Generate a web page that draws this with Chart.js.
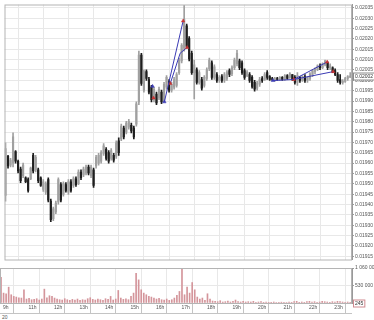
<!DOCTYPE html>
<html lang="en">
<head>
<meta charset="UTF-8">
<title>Price chart</title>
<style>
    body { margin: 0; background: #fff; }
    #wrap { position: relative; width: 374px; height: 320px; background: #fff; overflow: hidden; }
    canvas { display: block; }
    #day {
        position: absolute; left: 0; top: 313px; width: 352px; height: 7px;
        border-top: 1px solid #c4c4c4; font: 5px "Liberation Sans", Arial, sans-serif;
        color: #555; line-height: 7px; padding-left: 2px; box-sizing: border-box;
    }
</style>
<script src="https://cdn.jsdelivr.net/npm/chart.js"></script>
</head>
<body>
<div id="wrap">
    <canvas id="price" width="374" height="264"></canvas>
    <canvas id="volume" width="374" height="49"></canvas>
    <div id="day">20</div>
</div>

<script>
// hour labels shown under the volume panel
const tickLabels = ['9h', '11h', '12h', '13h', '14h', '15h', '16h', '17h', '18h', '19h', '20h', '21h', '22h', '23h'];

// 6-minute bars starting 10h00
const opens = [
0.019444,0.019633,0.019590,0.019600,0.019656,0.019609,0.019571,0.019539,0.019529,0.019520,
0.019524,0.019637,0.019567,0.019567,0.019529,0.019473,0.019459,0.019520,0.019416,0.019332,
0.019364,0.019412,0.019496,0.019449,0.019496,0.019459,0.019510,0.019492,0.019524,0.019501,
0.019557,0.019543,0.019553,0.019581,0.019539,0.019567,0.019586,0.019600,0.019609,0.019647,
0.019666,0.019651,0.019623,0.019637,0.019633,0.019708,0.019717,0.019769,0.019750,0.019774,
0.019783,0.019769,0.019788,0.019896,0.020122,0.019953,0.020042,0.020004,0.019967,0.019906,
0.019934,0.019915,0.019943,0.019906,0.019967,0.019995,0.019953,0.019967,0.019976,0.020037,
0.020094,0.020155,0.020263,0.020202,0.020131,0.020037,0.020051,0.019990,0.020004,0.019976,
0.020009,0.020056,0.020084,0.020014,0.020028,0.020000,0.020018,0.020000,0.020009,0.020047,
0.020032,0.020061,0.020080,0.020094,0.020084,0.020047,0.020023,0.020028,0.020014,0.019990,
0.019962,0.019981,0.020009,0.020004,0.020037,0.020018,0.020009,0.020004,0.020009,0.020004,
0.020014,0.020004,0.020023,0.020014,0.020028,0.020014,0.019990,0.020014,0.020000,0.020018,
0.020000,0.020009,0.020028,0.020042,0.020051,0.020070,0.020061,0.020075,0.020084,0.020061,
0.020061,0.020047,0.020028,0.020004,0.019990,0.019995,0.020009,0.020014
];
const highs = [
0.019698,0.019637,0.019623,0.019746,0.019661,0.019614,0.019581,0.019600,0.019534,0.019529,
0.019581,0.019647,0.019637,0.019576,0.019534,0.019520,0.019510,0.019529,0.019426,0.019388,
0.019416,0.019529,0.019506,0.019510,0.019506,0.019520,0.019520,0.019534,0.019534,0.019567,
0.019567,0.019581,0.019590,0.019590,0.019590,0.019576,0.019637,0.019647,0.019661,0.019694,
0.019675,0.019661,0.019670,0.019647,0.019708,0.019722,0.019788,0.019779,0.019802,0.019811,
0.019793,0.019779,0.019896,0.020141,0.020131,0.020051,0.020051,0.020014,0.019976,0.019967,
0.019943,0.019967,0.019953,0.019990,0.020023,0.020004,0.019990,0.020014,0.020037,0.020108,
0.020178,0.020362,0.020272,0.020211,0.020141,0.020098,0.020061,0.020047,0.020014,0.020023,
0.020061,0.020108,0.020094,0.020075,0.020037,0.020023,0.020028,0.020037,0.020047,0.020056,
0.020070,0.020108,0.020145,0.020103,0.020094,0.020056,0.020047,0.020037,0.020023,0.020000,
0.019995,0.020014,0.020018,0.020037,0.020047,0.020023,0.020014,0.020014,0.020014,0.020018,
0.020018,0.020028,0.020028,0.020037,0.020028,0.020023,0.020037,0.020018,0.020023,0.020028,
0.020018,0.020037,0.020051,0.020061,0.020075,0.020080,0.020084,0.020098,0.020089,0.020080,
0.020065,0.020056,0.020037,0.020028,0.020004,0.020014,0.020023,0.020037
];
const lows = [
0.019416,0.019576,0.019581,0.019581,0.019600,0.019553,0.019506,0.019529,0.019506,0.019459,
0.019520,0.019553,0.019557,0.019506,0.019487,0.019463,0.019449,0.019412,0.019317,0.019322,
0.019355,0.019402,0.019412,0.019440,0.019459,0.019449,0.019459,0.019482,0.019487,0.019496,
0.019520,0.019534,0.019543,0.019543,0.019529,0.019482,0.019576,0.019590,0.019600,0.019637,
0.019614,0.019600,0.019614,0.019604,0.019623,0.019637,0.019708,0.019717,0.019741,0.019764,
0.019746,0.019717,0.019779,0.019882,0.019976,0.019943,0.020000,0.019934,0.019896,0.019896,
0.019882,0.019906,0.019887,0.019896,0.019957,0.019943,0.019943,0.019957,0.019967,0.020028,
0.020084,0.020141,0.020155,0.020094,0.020028,0.019910,0.019981,0.019981,0.019953,0.019967,
0.020000,0.020047,0.020004,0.020004,0.019990,0.019990,0.019990,0.019990,0.020000,0.020018,
0.020023,0.020051,0.020070,0.020051,0.020028,0.020004,0.020018,0.019990,0.019962,0.019948,
0.019953,0.019971,0.019990,0.020000,0.020004,0.020000,0.020000,0.019995,0.020000,0.020000,
0.020000,0.020000,0.020004,0.020009,0.020000,0.019981,0.019976,0.019990,0.019995,0.019990,
0.019990,0.020000,0.020018,0.020032,0.020047,0.020051,0.020056,0.020070,0.020051,0.020051,
0.020037,0.020023,0.019990,0.019981,0.019981,0.019990,0.020000,0.020014
];
const closes = [
0.019670,0.019586,0.019614,0.019727,0.019609,0.019562,0.019515,0.019590,0.019510,0.019468,
0.019576,0.019562,0.019628,0.019515,0.019492,0.019510,0.019501,0.019421,0.019327,0.019379,
0.019407,0.019520,0.019421,0.019501,0.019468,0.019510,0.019468,0.019524,0.019496,0.019557,
0.019529,0.019571,0.019581,0.019553,0.019581,0.019492,0.019628,0.019637,0.019651,0.019684,
0.019623,0.019609,0.019661,0.019614,0.019698,0.019651,0.019779,0.019727,0.019793,0.019802,
0.019755,0.019727,0.019887,0.020122,0.019985,0.020042,0.020009,0.019943,0.019906,0.019957,
0.019891,0.019957,0.019896,0.019981,0.020014,0.019953,0.019981,0.020004,0.020028,0.020098,
0.020169,0.020296,0.020164,0.020103,0.020037,0.020075,0.019990,0.020037,0.019962,0.020014,
0.020051,0.020098,0.020014,0.020065,0.020000,0.020014,0.020000,0.020028,0.020037,0.020028,
0.020061,0.020098,0.020131,0.020061,0.020037,0.020014,0.020037,0.020000,0.019971,0.019957,
0.019985,0.020004,0.020000,0.020028,0.020014,0.020004,0.020004,0.020009,0.020004,0.020014,
0.020004,0.020023,0.020009,0.020032,0.020004,0.019990,0.020023,0.020000,0.020018,0.020000,
0.020014,0.020032,0.020047,0.020056,0.020070,0.020061,0.020080,0.020094,0.020061,0.020070,
0.020042,0.020028,0.020000,0.019990,0.019995,0.020009,0.020018,0.020020
];
const volumes = [
780000,300000,280000,480000,250000,200000,180000,160000,150000,400000,
120000,140000,100000,110000,130000,90000,120000,420000,160000,220000,
200000,150000,120000,100000,90000,130000,100000,80000,110000,90000,
120000,80000,100000,90000,130000,160000,110000,90000,120000,100000,
80000,130000,110000,200000,90000,120000,380000,150000,110000,130000,
100000,200000,300000,900000,700000,400000,300000,250000,200000,180000,
150000,120000,140000,100000,90000,120000,80000,100000,150000,230000,
350000,1020000,250000,480000,300000,620000,400000,180000,120000,150000,
80000,280000,120000,60000,50000,40000,70000,30000,40000,60000,
30000,50000,90000,40000,30000,50000,30000,40000,30000,50000,
20000,30000,40000,20000,30000,20000,20000,30000,15000,20000,
25000,20000,15000,30000,20000,40000,50000,20000,30000,20000,
40000,50000,30000,40000,20000,30000,50000,40000,30000,20000,
40000,30000,50000,40000,30000,20000,30000,245
];

// drawn trend lines (time in hours, price)
const trendA = { t: [16.314, 17.059], p: [0.019896, 0.020287] };
const trendB = { t: [16.549, 16.941, 17.216], p: [0.019985, 0.020131, 0.020159] };
const marks = { t: [15.843, 15.882], p: [0.019971, 0.019915] };
const trendC = { t: [20.627, 21.451], p: [0.019999, 0.020004] };
const trendD = { t: [21.451, 22.784], p: [0.020004, 0.020089] };
const trendE = { t: [21.451, 23.020], p: [0.020004, 0.020042] };

const xMin = 9.96, xMax = 23.77;
const times = opens.map((_, i) => 10 + i / 10);

Chart.defaults.font.family = '"Liberation Sans", Arial, sans-serif';
Chart.defaults.font.size = 5;
Chart.defaults.color = '#555';

const GRID = '#e8e8e8';
const UP = '#a0a0a0', DOWN = '#1e1e1e';
const BLUE = '#3a3ab4', RED = '#c83232';

const candleColors = closes.map((c, i) => c >= opens[i] ? UP : DOWN);
const pts = d => d.t.map((t, i) => ({ x: t, y: d.p[i] }));

function lineSet(d, colors) {
    return {
        type: 'line', data: pts(d), borderColor: BLUE, borderWidth: 1,
        pointStyle: 'triangle', pointRadius: colors.map(c => c ? 2 : 0),
        pointBackgroundColor: colors, pointBorderColor: colors, pointBorderWidth: 0.5,
        tension: 0, fill: false
    };
}

// frame round the plot area
const frame = {
    id: 'frame',
    afterDraw(chart) {
        const a = chart.chartArea, ctx = chart.ctx;
        ctx.save();
        ctx.strokeStyle = '#b4b4b4';
        ctx.lineWidth = 1;
        ctx.strokeRect(a.left + 0.5, a.top + 0.5, a.right - a.left - 1, a.bottom - a.top);
        ctx.restore();
    }
};

// boxed value on the right axis
function lastValueBox(id, getValue, text, border) {
    return {
        id: id,
        afterDraw(chart) {
            const ctx = chart.ctx, y = Math.round(chart.scales.y.getPixelForValue(getValue())) + 0.5;
            const x = chart.chartArea.right + 1;
            ctx.save();
            ctx.font = '5px "Liberation Sans", Arial, sans-serif';
            const w = ctx.measureText(text()).width + 3;
            ctx.fillStyle = '#fff';
            ctx.strokeStyle = border;
            ctx.lineWidth = 1;
            ctx.fillRect(x, y - 3.5, w, 7);
            ctx.strokeRect(x + 0.5, y - 3.5, w, 7);
            ctx.fillStyle = '#333';
            ctx.textBaseline = 'middle';
            ctx.fillText(text(), x + 2, y + 0.5);
            ctx.restore();
        }
    };
}

const last = closes.length - 1;

new Chart(document.getElementById('price'), {
    type: 'bar',
    data: {
        datasets: [
            lineSet(trendA, [BLUE, RED]),
            lineSet(trendB, [RED, null, RED]),
            Object.assign(lineSet(marks, [BLUE, RED]), { showLine: false }),
            lineSet(trendC, [BLUE, null]),
            lineSet(trendD, [RED, RED]),
            lineSet(trendE, [null, RED]),
            {
                data: times.map((t, i) => ({ x: t, y: [opens[i], closes[i]] })),
                backgroundColor: candleColors, barThickness: 1.5, minBarLength: 1, grouped: false
            },
            {
                data: times.map((t, i) => ({ x: t, y: [lows[i], highs[i]] })),
                backgroundColor: candleColors, barThickness: 1, grouped: false
            }
        ]
    },
    options: {
        responsive: false,
        animation: false,
        layout: { padding: { bottom: 2 } },
        plugins: { legend: { display: false }, tooltip: { enabled: false } },
        scales: {
            x: {
                type: 'linear', min: xMin, max: xMax, offset: false,
                ticks: { display: false, stepSize: 1, includeBounds: false },
                grid: { color: GRID, drawTicks: false },
                border: { display: false },
                afterFit(s) { s.height = 0; }
            },
            y: {
                position: 'right', min: 0.0191341, max: 0.0203665,
                ticks: { stepSize: 0.00005, includeBounds: false, padding: 1, callback: v => v.toFixed(5) },
                grid: { color: GRID, tickColor: '#999', tickLength: 2 },
                border: { color: '#999' },
                afterFit(s) { s.width = 22; }
            }
        }
    },
    plugins: [frame, lastValueBox('priceBox', () => closes[last], () => closes[last].toFixed(5), '#8c8c8c')]
});

const spaced = v => String(v).replace(/\B(?=(\d{3})+(?!\d))/g, ' ');

new Chart(document.getElementById('volume'), {
    type: 'bar',
    data: {
        datasets: [{
            data: times.map((t, i) => ({ x: t, y: volumes[i] })),
            backgroundColor: '#d4959b', barThickness: 1
        }]
    },
    options: {
        responsive: false,
        animation: false,
        layout: { padding: { top: 4 } },
        plugins: { legend: { display: false }, tooltip: { enabled: false } },
        scales: {
            x: {
                type: 'linear', min: xMin, max: xMax, offset: false,
                ticks: {
                    stepSize: 1, includeBounds: false, align: 'start', labelOffset: 2, padding: -8,
                    maxRotation: 0, autoSkip: false,
                    callback: (v, i) => tickLabels[i]
                },
                grid: { color: GRID, tickColor: '#c4c4c4', tickLength: 10 },
                border: { color: '#b4b4b4' },
                afterFit(s) { s.height = 10; }
            },
            y: {
                position: 'right', min: 0, max: 1060000,
                ticks: { stepSize: 500000, includeBounds: false, padding: 1, callback: v => v ? spaced(v) : '' },
                grid: { color: GRID, tickColor: '#999', tickLength: 2 },
                border: { color: '#999' },
                afterFit(s) { s.width = 22; }
            }
        }
    },
    plugins: [frame, lastValueBox('volBox', () => volumes[last], () => String(volumes[last]), '#d08a90')]
});
</script>
</body>
</html>
